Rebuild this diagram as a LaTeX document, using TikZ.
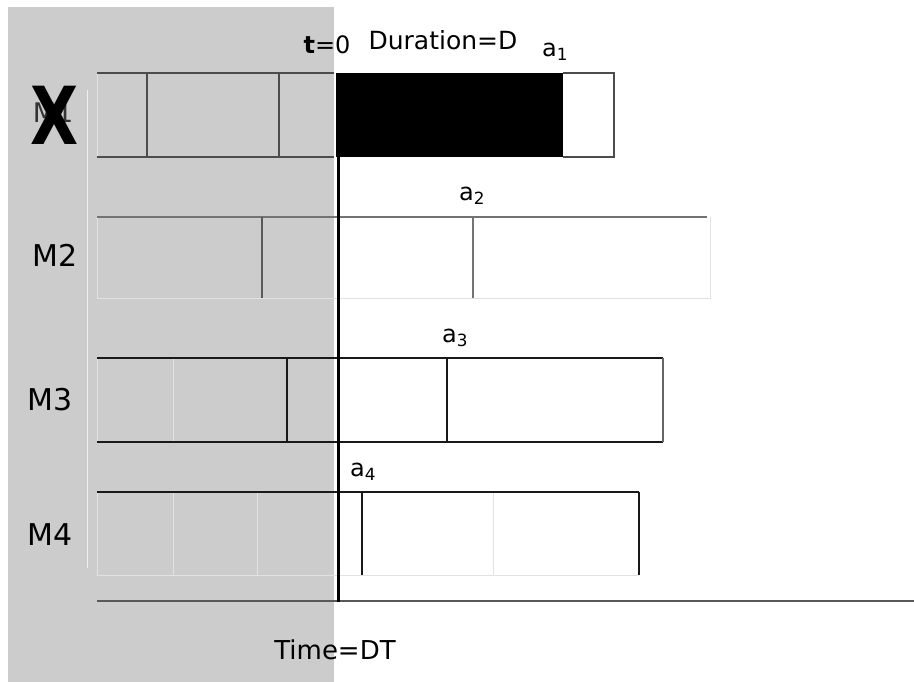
\documentclass[tikz,border=0pt]{standalone}
\usepackage{fontspec}
\setmainfont{DejaVu Sans}
\definecolor{pastgray}{HTML}{CCCCCC}
\definecolor{faintc}{HTML}{E2E2E2}
\begin{document}
\begin{tikzpicture}[x=1pt,y=-1pt,
  bar/.style={line width=1.6pt, draw=black!90},
  dbar/.style={line width=1.4pt, draw=black!70},
  gbar/.style={line width=1.4pt, draw=black!55},
  faint/.style={line width=1pt, draw=faintc},
  lbl/.style={font=\fontsize{24}{28}\selectfont, inner sep=0pt},
  mlbl/.style={font=\fontsize{30}{34}\selectfont, inner sep=0pt}]
\fill[white] (0,0) rectangle (914,682);
\useasboundingbox (0,0) rectangle (914,682);
% gray past region
\fill[pastgray] (8,7) rectangle (334,682);
\draw[line width=1pt, draw=white!70!pastgray] (87,90) -- (87,568);
% faint box edges
\draw[faint] (97,73) -- (97,157);
\draw[faint] (97,217) -- (97,298) -- (710,298) -- (710,217);
\draw[faint] (97,358) -- (97,442) (173,358) -- (173,442);
\draw[faint] (97,492) -- (97,575) -- (639,575) (173,492) -- (173,575) (257,492) -- (257,575) (493,492) -- (493,575);
% M1 row
\draw[dbar] (97,73) -- (334,73) (97,157) -- (334,157);
\draw[dbar] (147,73) -- (147,157) (279,73) -- (279,157);
\fill[black] (336,73) rectangle (563,157);
\draw[dbar] (563,73) -- (614,73) -- (614,157) -- (563,157);
% M2 row
\draw[gbar] (97,217) -- (707,217);
\draw[line width=1.6pt, draw=black!65] (262,217) -- (262,298);
\draw[gbar] (473,217) -- (473,298);
% M3 row
\draw[bar] (97,358) -- (663,358) (97,442) -- (663,442);
\draw[line width=1.4pt, draw=black!60] (663,358) -- (663,442);
\draw[bar] (287,358) -- (287,442) (447,358) -- (447,442);
% M4 row
\draw[bar] (97,492) -- (639,492);
\draw[bar] (639,492) -- (639,575) (362,492) -- (362,575);
% time axis
\draw[line width=1.4pt, draw=black!65] (97,601) -- (914,601);
\draw[line width=3pt, black] (338,157) -- (338,602);
% labels
\node[lbl] (t0) at (327,45) {\textbf{t}=0};
\node[font=\fontsize{25}{29}\selectfont, inner sep=0pt] (dur) at (443,40) {Duration=D};
\node[lbl] (a1) at (555,52) {a\textsubscript{1}};
\node[lbl] (a2) at (472,196) {a\textsubscript{2}};
\node[lbl] (a3) at (455,338) {a\textsubscript{3}};
\node[lbl] (a4) at (363,472) {a\textsubscript{4}};
\node[font=\fontsize{27}{31}\selectfont, inner sep=0pt, text=black!80] (m1) at (53,113) {M1};
\node[font=\fontsize{80}{90}\selectfont\bfseries, inner sep=0pt] (x1) at (55,115) {\scalebox{0.78}[1]{X}};
\node[mlbl] (m2) at (55,255) {M2};
\node[mlbl] (m3) at (50,400) {M3};
\node[mlbl] (m4) at (50,535) {M4};
\node[font=\fontsize{26}{30}\selectfont, inner sep=0pt] (time) at (335,650) {Time=DT};
\end{tikzpicture}
\end{document}
